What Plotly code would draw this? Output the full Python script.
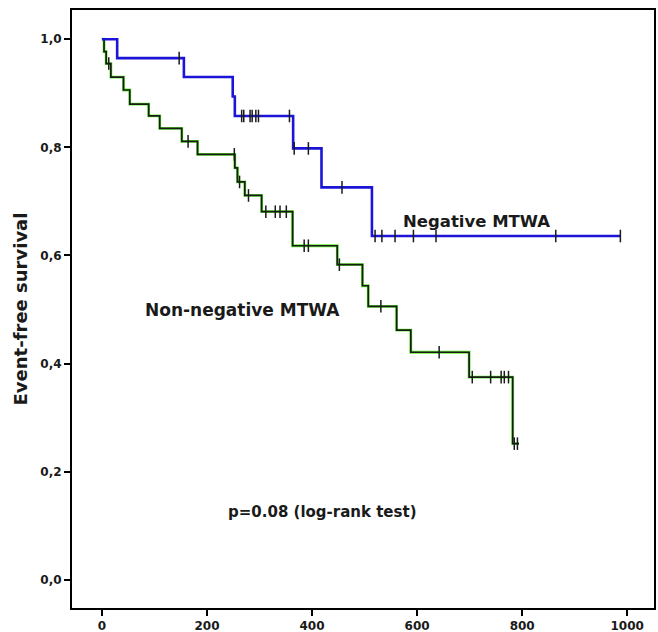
import numpy as np
import plotly.graph_objects as go

# Negative MTWA (blue) Kaplan-Meier estimate
neg_event_t = [0, 29, 156, 249, 253, 364, 418, 514]
neg_surv = [1.0, 0.965, 0.930, 0.894, 0.858, 0.798, 0.726, 0.636]
neg_censor_t = [147, 266, 270, 282, 286, 293, 298, 357, 366, 393, 457,
                520, 533, 558, 593, 636, 864, 987]
neg_end_t = 987

# Non-negative MTWA (green)
nn_event_t = [0, 4, 8, 17, 41, 53, 89, 110, 152, 182, 253, 258, 272, 304,
              363, 448, 496, 507, 561, 588, 699, 782]
nn_surv = [1.0, 0.977, 0.955, 0.930, 0.906, 0.880, 0.858, 0.835, 0.811,
           0.787, 0.762, 0.736, 0.711, 0.681, 0.618, 0.583, 0.544, 0.506,
           0.462, 0.421, 0.375, 0.252]
nn_censor_t = [13, 164, 252, 262, 279, 312, 330, 339, 351, 385, 393, 452,
               531, 642, 705, 740, 760, 766, 774, 785, 791]
nn_end_t = 794

x_ticks = [0, 200, 400, 600, 800, 1000]
y_ticks = [0.0, 0.2, 0.4, 0.6, 0.8, 1.0]

label_neg = "Negative MTWA"
label_nn = "Non-negative MTWA"
p_text = "p=0.08 (log-rank test)"
y_title = "Event-free survival"


def step_xy(times, surv, end_t):
    return list(times) + [end_t], list(surv) + [surv[-1]]


def surv_at(times, surv, t_query):
    idx = np.searchsorted(np.array(times), np.array(t_query), side="right") - 1
    return [surv[i] for i in idx]


BLUE = "#1c14d6"
GREEN = "#5cf02a"
INK = "#1a1a1a"
FONT = "DejaVu Sans"

fig = go.Figure()

# Non-negative: green shadow + black line
gx, gy = step_xy(nn_event_t, nn_surv, nn_end_t)
fig.add_trace(go.Scatter(x=gx, y=gy, mode="lines", line_shape="hv",
                         line=dict(color=GREEN, width=2.8), hoverinfo="skip"))
fig.add_trace(go.Scatter(x=gx, y=gy, mode="lines", line_shape="hv",
                         line=dict(color=INK, width=1.7), name=label_nn))

# Negative: blue
bx, by = step_xy(neg_event_t, neg_surv, neg_end_t)
fig.add_trace(go.Scatter(x=bx, y=by, mode="lines", line_shape="hv",
                         line=dict(color=BLUE, width=2.6), name=label_neg))

# Censor marks
for ct, times, surv in [(nn_censor_t, nn_event_t, nn_surv),
                        (neg_censor_t, neg_event_t, neg_surv)]:
    fig.add_trace(go.Scatter(
        x=ct, y=surv_at(times, surv, ct), mode="markers",
        marker=dict(symbol="line-ns-open", size=9, color=INK,
                    line=dict(color=INK, width=1.5)),
        hoverinfo="skip"))

fig.add_annotation(x=714, y=0.662, text=label_neg, showarrow=False,
                   font=dict(family=FONT, size=16.5, color=INK, weight="bold"))
fig.add_annotation(x=267, y=0.499, text=label_nn, showarrow=False,
                   font=dict(family=FONT, size=17, color=INK, weight="bold"))
fig.add_annotation(x=419, y=0.126, text=p_text, showarrow=False,
                   font=dict(family=FONT, size=15, color=INK, weight="bold"))

fig.update_layout(
    width=658, height=632,
    margin=dict(l=72, r=4, t=10, b=24, autoexpand=False),
    plot_bgcolor="white", paper_bgcolor="white",
    showlegend=False,
    separators=",.",
    xaxis=dict(range=[-57, 1051], tickvals=x_ticks, showgrid=False,
               zeroline=False, showline=True, mirror=True, linecolor="black",
               linewidth=2, ticks="outside", ticklen=6, tickwidth=1.5,
               tickcolor="black",
               tickfont=dict(family=FONT, size=12, color=INK, weight="bold")),
    yaxis=dict(range=[-0.052, 1.054], tickvals=y_ticks, tickformat=".1f",
               showgrid=False, zeroline=False, showline=True, mirror=True,
               linecolor="black", linewidth=2, ticks="outside", ticklen=6,
               tickwidth=1.5, tickcolor="black",
               tickfont=dict(family=FONT, size=12, color=INK, weight="bold"),
               title=dict(text=y_title, standoff=8,
                          font=dict(family=FONT, size=18, color=INK,
                                    weight="bold"))),
)

fig.write_html("out.html", config={"displayModeBar": False},
               post_script="document.body.style.margin='0px';")
